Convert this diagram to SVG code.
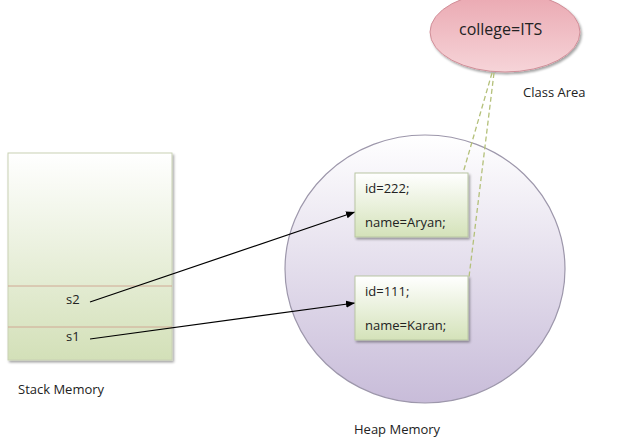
<svg xmlns="http://www.w3.org/2000/svg" width="627" height="446" viewBox="0 0 627 446">
<defs>
  <linearGradient id="gStack" x1="0" y1="0" x2="0" y2="1">
    <stop offset="0" stop-color="#ffffff"/>
    <stop offset="1" stop-color="#d3e0b8"/>
  </linearGradient>
  <linearGradient id="gBox" x1="0" y1="0" x2="0" y2="1">
    <stop offset="0" stop-color="#ffffff"/>
    <stop offset="1" stop-color="#d4e2b9"/>
  </linearGradient>
  <linearGradient id="gHeap" x1="0" y1="0" x2="0" y2="1">
    <stop offset="0" stop-color="#ffffff"/>
    <stop offset="1" stop-color="#c8bcd9"/>
  </linearGradient>
  <linearGradient id="gClass" x1="0" y1="0" x2="0" y2="1">
    <stop offset="0" stop-color="#eaa7b0"/>
    <stop offset="1" stop-color="#f6d4d8"/>
  </linearGradient>
  <filter id="shadow" x="-10%" y="-10%" width="130%" height="130%">
    <feDropShadow dx="1.5" dy="2" stdDeviation="1.2" flood-color="#000" flood-opacity="0.35"/>
  </filter>
  <marker id="arrow" viewBox="0 0 10 10" refX="10" refY="5" markerWidth="9" markerHeight="9" orient="auto" markerUnits="userSpaceOnUse">
    <path d="M0,1 L10,5 L0,9 z" fill="#000"/>
  </marker>
</defs>
<style>
  text { font-family: "Open Sans", "Liberation Sans", sans-serif; fill: #222; }
  .lbl { font-size: 13px; }
  .box { fill: url(#gBox); stroke: #b9c6a3; stroke-width: 1; filter: url(#shadow); }
  .ref { stroke: #000; stroke-width: 1.2; fill: none; marker-end: url(#arrow); }
  .dash { stroke: #b4c07a; stroke-width: 1.3; stroke-dasharray: 5 3; fill: none; }
</style>

<g id="stack-memory">
  <rect x="8" y="153" width="164" height="207" fill="url(#gStack)" stroke="#c9d1b4" stroke-width="1" filter="url(#shadow)"/>
  <line x1="8" y1="286" x2="172" y2="286" stroke="#d0a894" stroke-width="1"/>
  <line x1="8" y1="327" x2="172" y2="327" stroke="#d0a894" stroke-width="1"/>
  <text class="lbl" x="66" y="304">s2</text>
  <text class="lbl" x="66" y="341">s1</text>
  <text class="lbl" x="18" y="394">Stack Memory</text>
</g>

<g id="heap-memory">
  <ellipse cx="425" cy="269" rx="140" ry="134" fill="url(#gHeap)" stroke="#9d97ab" stroke-width="1.2"/>
  <text class="lbl" x="354" y="434">Heap Memory</text>
</g>

<g id="class-area">
  <ellipse cx="505" cy="32" rx="75" ry="40" fill="url(#gClass)" stroke="#d08e98" stroke-width="1" filter="url(#shadow)"/>
  <text x="459" y="35" font-size="16">college=ITS</text>
  <text class="lbl" x="523" y="97">Class Area</text>
</g>

<g id="connectors">
  <line class="dash" x1="492" y1="73" x2="463" y2="173"/>
  <line class="dash" x1="494" y1="73" x2="469" y2="277"/>
  <line class="ref" x1="90" y1="302" x2="355" y2="212"/>
  <line class="ref" x1="90" y1="339" x2="355" y2="303"/>
</g>

<g id="object-aryan">
  <rect class="box" x="355" y="173" width="113" height="64"/>
  <text class="lbl" x="365" y="193">id=222;</text>
  <text class="lbl" x="365" y="227">name=Aryan;</text>
</g>

<g id="object-karan">
  <rect class="box" x="355" y="276" width="113" height="64"/>
  <text class="lbl" x="365" y="296">id=111;</text>
  <text class="lbl" x="365" y="330">name=Karan;</text>
</g>
</svg>
